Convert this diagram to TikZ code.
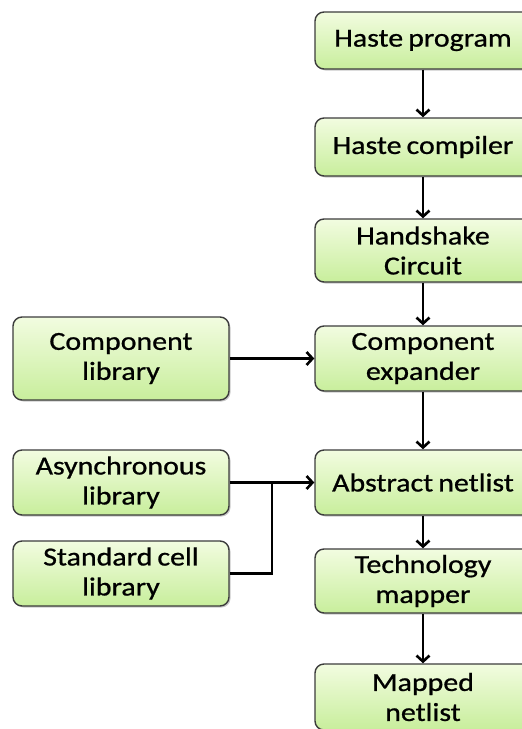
\documentclass[tikz,border=0pt]{standalone}
\usepackage{fontspec}
\setmainfont{Carlito}[FakeStretch=1.15, FakeBold=0.8, WordSpace=0.75]
\usetikzlibrary{arrows.meta, shadows}

\definecolor{boxtop}{RGB}{242,252,224}
\definecolor{boxbottom}{RGB}{200,238,156}
\definecolor{boxline}{RGB}{60,60,60}

\tikzset{
  flowbox/.style={draw=boxline, line width=1.4pt, rounded corners=9pt,
    top color=boxtop, bottom color=boxbottom, align=center,
    minimum width=216pt, inner sep=0pt,
    font=\fontsize{26}{30}\selectfont,
    drop shadow={shadow xshift=1.5pt, shadow yshift=-1.5pt, opacity=0.35, fill=black!60}},
  flowarrow/.style={->, line width=2.6pt, >={Straight Barb[length=6pt, width=13pt]}}
}

\begin{document}
\begin{tikzpicture}[x=1pt, y=-1pt]
    \useasboundingbox (0,0) rectangle (522,729);
    \clip (0,0) rectangle (522,729);

    % Main flow (right column)
    \node[flowbox, minimum height=57pt] (prog) at (423,40.5) {Haste program};
    \node[flowbox, minimum height=58pt] (comp) at (423,147) {Haste compiler};
    \node[flowbox, minimum height=63pt] (hs)   at (423,250.5) {Handshake\\Circuit};
    \node[flowbox, minimum height=65pt] (exp)  at (423,358.5) {Component\\expander};
    \node[flowbox, minimum height=65pt] (abs)  at (423,482.5) {Abstract netlist};
    \node[flowbox, minimum height=64pt] (tech) at (423,581) {Technology\\mapper};
    \node[flowbox, minimum height=66pt] (map)  at (423,697) {Mapped\\netlist};

    % Libraries (left column)
    \node[flowbox, minimum height=83pt] (clib) at (121,358.5) {Component\\library};
    \node[flowbox, minimum height=65pt] (alib) at (121,482.5) {Asynchronous\\library};
    \node[flowbox, minimum height=65pt] (slib) at (121,573.5) {Standard cell\\library};

    % Junction of the two libraries
    \coordinate (join) at (272,482.5);

    % Arrows
    \path[flowarrow]
        (prog) edge (comp)
        (comp) edge (hs)
        (hs)   edge (exp)
        (exp)  edge (abs)
        (abs)  edge (tech)
        (tech) edge (map)
        (clib) edge (exp)
        (alib) edge (abs);
    \draw[line width=2.6pt] (slib.east) -| (join);

\end{tikzpicture}
\end{document}
